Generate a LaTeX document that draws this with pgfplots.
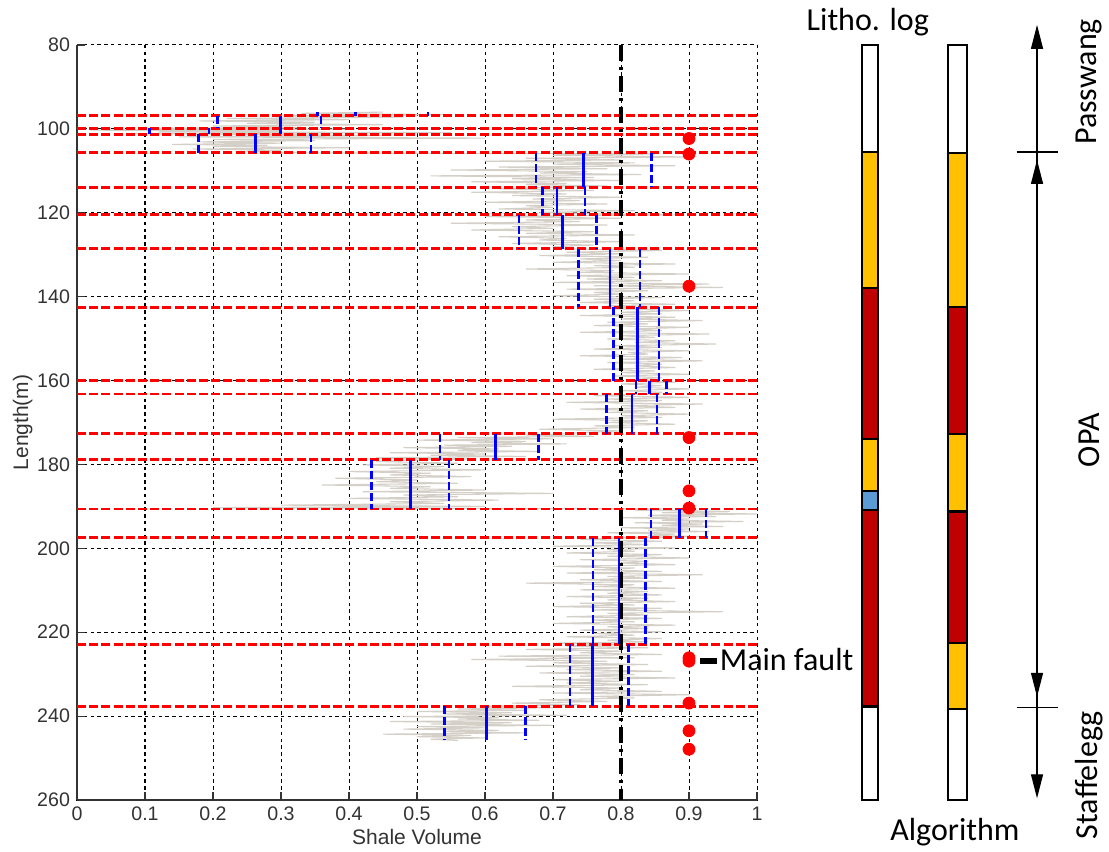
\documentclass[border=0pt]{standalone}
\usepackage{fontspec}
\setmainfont{Liberation Sans}
\newfontfamily\calfont{Carlito}
\usepackage{pgfplots}
\pgfplotsset{compat=1.18}
\usetikzlibrary{arrows.meta}
\definecolor{litY}{RGB}{255,192,0}
\definecolor{litR}{RGB}{192,0,0}
\definecolor{litB}{RGB}{91,155,213}
\definecolor{trace}{RGB}{212,208,199}
\newcommand{\seg}[5]{\addplot[fill=#5,draw=black,line width=1.1pt] coordinates {(#1,#3) (#2,#3) (#2,#4) (#1,#4)} -- cycle;}
\begin{document}
\begin{tikzpicture}
\begin{axis}[
  scale only axis, width=340pt, height=377.5pt,
  xmin=0, xmax=1, ymin=80, ymax=260, y dir=reverse,
  xtick={0,0.1,0.2,0.3,0.4,0.5,0.6,0.7,0.8,0.9,1},
  ytick={80,100,120,140,160,180,200,220,240,260},
  axis x line*=bottom, axis y line*=left,
  axis line style={black!80, line width=0.6pt},
  tick align=inside, major tick length=4pt,
  tick style={black!80, line width=0.6pt},
  grid=major, grid style={black, line width=0.5pt, dash pattern=on 1.7pt off 1.7pt},
  /pgf/number format/assume math mode=true,
  ticklabel style={font=\fontsize{9.8}{11}\selectfont, text=black!80},
  xlabel={Shale Volume}, ylabel={Length(m)},
  label style={font=\fontsize{10.5}{12}\selectfont, text=black!80},
  x label style={at={(axis description cs:0.5,-0.049)}, anchor=center},
  y label style={at={(axis description cs:-0.080,0.5)}, anchor=center},
  clip=false, unbounded coords=jump,
]
% raw log
\addplot[trace, line width=0.55pt] coordinates {
(0.45,96.0)(0.33,96.3)(0.55,96.6)(0.30,96.9)
(0.48,97.2)(0.22,97.5)(0.40,97.8)(0.18,98.1)(0.35,98.4)(0.25,98.7)(0.45,99.0)(0.20,99.3)(0.33,99.6)(0.10,99.9)
(0.40,100.1)(0.02,100.3)(0.30,100.5)(0.12,100.7)(0.55,100.9)(0.08,101.1)(0.25,101.3)
(0.45,101.6)(0.15,101.9)(0.60,102.2)(0.20,102.5)(0.35,102.8)(0.18,103.1)(0.30,103.4)(0.14,103.7)(0.28,103.9)(0.20,104.2)(0.40,104.5)(0.17,104.8)(0.30,105.1)(0.25,105.4)(0.33,105.7)
(0.85,106.0)(0.70,106.3)(0.90,106.7)(0.66,107.0)(0.80,107.4)(0.60,107.7)(0.82,108.1)(0.70,108.4)(0.88,108.8)(0.62,109.1)(0.78,109.5)(0.55,109.8)(0.75,110.2)(0.68,110.5)(0.83,110.9)(0.52,111.2)(0.76,111.6)(0.64,111.9)(0.80,112.3)(0.58,112.6)(0.72,113.0)(0.66,113.3)(0.78,113.6)(0.70,113.9)
(0.62,114.3)(0.76,114.7)(0.58,115.1)(0.72,115.5)(0.64,115.9)(0.80,116.3)(0.67,116.7)(0.74,117.1)(0.60,117.5)(0.78,117.9)(0.66,118.3)(0.70,118.7)(0.62,119.1)(0.82,119.5)(0.68,119.9)(0.74,120.2)(0.88,120.5)
(0.60,120.9)(0.80,121.3)(0.66,121.7)(0.74,122.1)(0.55,122.5)(0.78,122.9)(0.64,123.3)(0.70,123.7)(0.58,124.1)(0.76,124.5)(0.66,124.9)(0.82,125.3)(0.62,125.7)(0.72,126.1)(0.68,126.5)(0.80,126.9)(0.64,127.3)(0.76,127.7)(0.70,128.1)(0.72,128.6)
(0.86,129.0)(0.72,129.4)(0.80,129.8)(0.68,130.2)(0.84,130.6)(0.74,131.0)(0.80,131.4)(0.70,131.8)(0.88,132.2)(0.76,132.6)(0.82,133.0)(0.66,133.4)(0.79,133.8)(0.74,134.2)(0.90,134.6)(0.72,135.0)(0.82,135.4)(0.75,135.8)(0.86,136.2)(0.70,136.6)(0.93,137.0)(0.76,137.4)(0.95,137.8)(0.72,138.2)(0.84,138.6)(0.76,139.0)(0.80,139.4)(0.70,139.8)(0.86,140.2)(0.76,140.6)(0.82,141.0)(0.74,141.4)(0.88,141.8)(0.78,142.2)(0.82,142.5)
(0.78,142.9)(0.90,143.3)(0.80,143.7)(0.86,144.1)(0.74,144.5)(0.88,144.9)(0.80,145.3)(0.92,145.7)(0.78,146.1)(0.84,146.5)(0.76,146.9)(0.90,147.3)(0.82,147.7)(0.86,148.1)(0.74,148.5)(0.93,148.9)(0.80,149.3)(0.85,149.7)(0.78,150.1)(0.88,150.5)(0.82,150.9)(0.94,151.3)(0.79,151.7)(0.86,152.1)(0.76,152.5)(0.90,152.9)(0.81,153.3)(0.84,153.7)(0.74,154.1)(0.89,154.5)(0.80,154.9)(0.92,155.3)(0.78,155.7)(0.86,156.1)(0.82,156.5)(0.88,156.9)(0.76,157.3)(0.85,157.7)(0.80,158.1)(0.90,158.5)(0.79,158.9)(0.86,159.3)(0.82,159.7)(0.84,160.0)
(0.88,160.4)(0.80,160.8)(0.86,161.2)(0.82,161.6)(0.90,162.0)(0.80,162.4)(0.86,162.8)(0.84,163.2)
(0.76,163.6)(0.90,164.0)(0.78,164.4)(0.86,164.8)(0.72,165.2)(0.92,165.6)(0.80,166.0)(0.88,166.4)(0.74,166.8)(0.84,167.2)(0.78,167.6)(0.90,168.0)(0.80,168.4)(0.86,168.8)(0.70,169.2)(0.84,169.6)(0.78,170.0)(0.88,170.4)(0.76,170.8)(0.82,171.2)(0.68,171.6)(0.80,172.0)(0.74,172.4)(0.72,172.7)
(0.66,173.0)(0.76,173.3)(0.56,173.6)(0.70,173.9)(0.50,174.2)(0.66,174.5)(0.58,174.8)(0.72,175.1)(0.54,175.4)(0.64,175.7)(0.48,176.0)(0.62,176.3)(0.56,176.6)(0.68,176.9)(0.46,177.2)(0.60,177.5)(0.52,177.8)(0.66,178.1)(0.44,178.4)(0.58,178.7)(0.50,178.9)
(0.44,179.3)(0.56,179.7)(0.42,180.1)(0.54,180.5)(0.46,180.9)(0.60,181.3)(0.40,181.7)(0.52,182.1)(0.46,182.5)(0.58,182.9)(0.38,183.3)(0.50,183.7)(0.44,184.1)(0.56,184.5)(0.36,184.9)(0.52,185.3)(0.46,185.7)(0.60,186.1)(0.42,186.5)(0.70,186.9)(0.48,187.3)(0.56,187.7)(0.40,188.1)(0.62,188.5)(0.46,188.9)(0.54,189.3)(0.30,189.7)(0.60,190.0)(0.20,190.3)(0.86,190.6)
(0.82,190.9)(0.96,191.2)(0.86,191.5)(1.00,191.8)(0.84,192.1)(0.94,192.4)(0.80,192.7)(0.90,193.0)(0.86,193.3)(0.98,193.6)(0.82,193.9)(0.92,194.2)(0.86,194.5)(0.95,194.8)(0.80,195.1)(0.90,195.4)(0.84,195.7)(0.93,196.0)(0.78,196.3)(0.88,196.6)(0.84,196.9)(0.92,197.2)(0.80,197.5)
(0.74,197.9)(0.86,198.3)(0.76,198.7)(0.84,199.1)(0.70,199.5)(0.88,199.9)(0.78,200.3)(0.82,200.7)(0.72,201.1)(0.86,201.5)(0.78,201.9)(0.90,202.3)(0.74,202.7)(0.84,203.1)(0.80,203.5)(0.88,203.9)(0.70,204.3)(0.82,204.7)(0.76,205.1)(0.86,205.5)(0.72,205.9)(0.92,206.3)(0.78,206.7)(0.84,207.1)(0.74,207.5)(0.86,207.9)(0.66,208.3)(0.82,208.7)(0.76,209.1)(0.88,209.5)(0.74,209.9)(0.84,210.3)(0.78,210.7)(0.86,211.1)(0.72,211.5)(0.84,211.9)(0.78,212.3)(0.88,212.7)(0.74,213.1)(0.82,213.5)(0.70,213.9)(0.86,214.3)(0.76,214.7)(0.95,215.1)(0.78,215.5)(0.84,215.9)(0.72,216.3)(0.86,216.7)(0.76,217.1)(0.82,217.5)(0.70,217.9)(0.88,218.3)(0.78,218.7)(0.84,219.1)(0.74,219.5)(0.86,219.9)(0.76,220.3)(0.82,220.7)(0.72,221.1)(0.86,221.5)(0.78,221.9)(0.84,222.3)(0.70,222.6)(0.80,222.9)
(0.72,223.3)(0.84,223.7)(0.66,224.1)(0.80,224.5)(0.74,224.9)(0.86,225.3)(0.62,225.7)(0.82,226.1)(0.58,226.5)(0.78,226.9)(0.70,227.3)(0.84,227.7)(0.66,228.1)(0.80,228.5)(0.72,228.9)(0.86,229.3)(0.68,229.7)(0.82,230.1)(0.74,230.5)(0.88,230.9)(0.70,231.3)(0.80,231.7)(0.72,232.1)(0.84,232.5)(0.64,232.9)(0.80,233.3)(0.74,233.7)(0.86,234.1)(0.70,234.5)(0.90,234.9)(0.76,235.3)(0.82,235.7)(0.68,236.1)(0.78,236.5)(0.64,236.9)(0.74,237.3)(0.60,237.7)
(0.70,238.0)(0.56,238.3)(0.66,238.6)(0.50,238.9)(0.64,239.2)(0.54,239.5)(0.72,239.8)(0.48,240.1)(0.62,240.4)(0.56,240.7)(0.68,241.0)(0.46,241.3)(0.64,241.6)(0.52,241.9)(0.70,242.2)(0.50,242.5)(0.60,242.8)(0.48,243.1)(0.62,243.4)(0.54,243.7)(0.66,244.0)(0.45,244.3)(0.58,244.6)(0.50,244.9)(0.60,245.2)(0.52,245.5)(0.56,245.8)
};
% segment boundaries
\addplot[red, line width=1.4pt, dash pattern=on 4.5pt off 1.6pt] coordinates {
(0,96.9)(1,96.9)(nan,nan)(0,99.9)(1,99.9)(nan,nan)(0,101.3)(1,101.3)(nan,nan)
(0,105.7)(1,105.7)(nan,nan)(0,113.9)(1,113.9)(nan,nan)(0,120.5)(1,120.5)(nan,nan)
(0,128.6)(1,128.6)(nan,nan)(0,142.5)(1,142.5)(nan,nan)(0,160.0)(1,160.0)(nan,nan)
(0,163.2)(1,163.2)(nan,nan)(0,172.7)(1,172.7)(nan,nan)(0,178.9)(1,178.9)(nan,nan)
(0,190.6)(1,190.6)(nan,nan)(0,197.5)(1,197.5)(nan,nan)(0,222.9)(1,222.9)(nan,nan)
(0,237.7)(1,237.7)
};
% segment means
\addplot[blue, line width=1.35pt] coordinates {
(0.410,96.0)(0.410,96.9)(nan,nan)
(0.299,96.9)(0.299,99.9)(nan,nan)
(0.194,99.9)(0.194,101.3)(nan,nan)
(0.263,101.3)(0.263,105.7)(nan,nan)
(0.745,105.7)(0.745,113.9)(nan,nan)
(0.706,113.9)(0.706,120.5)(nan,nan)
(0.714,120.5)(0.714,128.6)(nan,nan)
(0.784,128.6)(0.784,142.5)(nan,nan)
(0.824,142.5)(0.824,160.0)(nan,nan)
(0.842,160.0)(0.842,163.2)(nan,nan)
(0.816,163.2)(0.816,172.7)(nan,nan)
(0.615,172.7)(0.615,178.9)(nan,nan)
(0.490,178.9)(0.490,190.6)(nan,nan)
(0.886,190.6)(0.886,197.5)(nan,nan)
(0.797,197.5)(0.797,222.9)(nan,nan)
(0.758,222.9)(0.758,237.7)(nan,nan)
(0.602,237.7)(0.602,245.8)
};
% mean -/+ std
\addplot[blue, line width=1.35pt, dash pattern=on 4pt off 1.5pt] coordinates {
(0.354,96.0)(0.354,96.9)(nan,nan)(0.516,96.0)(0.516,96.9)(nan,nan)
(0.207,96.9)(0.207,99.9)(nan,nan)(0.359,96.9)(0.359,99.9)(nan,nan)
(0.107,99.9)(0.107,101.3)(nan,nan)(0.299,99.9)(0.299,101.3)(nan,nan)
(0.179,101.3)(0.179,105.7)(nan,nan)(0.344,101.3)(0.344,105.7)(nan,nan)
(0.675,105.7)(0.675,113.9)(nan,nan)(0.845,105.7)(0.845,113.9)(nan,nan)
(0.685,113.9)(0.685,120.5)(nan,nan)(0.747,113.9)(0.747,120.5)(nan,nan)
(0.650,120.5)(0.650,128.6)(nan,nan)(0.764,120.5)(0.764,128.6)(nan,nan)
(0.737,128.6)(0.737,142.5)(nan,nan)(0.828,128.6)(0.828,142.5)(nan,nan)
(0.789,142.5)(0.789,160.0)(nan,nan)(0.856,142.5)(0.856,160.0)(nan,nan)
(0.822,160.0)(0.822,163.2)(nan,nan)(0.867,160.0)(0.867,163.2)(nan,nan)
(0.779,163.2)(0.779,172.7)(nan,nan)(0.853,163.2)(0.853,172.7)(nan,nan)
(0.534,172.7)(0.534,178.9)(nan,nan)(0.679,172.7)(0.679,178.9)(nan,nan)
(0.433,178.9)(0.433,190.6)(nan,nan)(0.547,178.9)(0.547,190.6)(nan,nan)
(0.844,190.6)(0.844,197.5)(nan,nan)(0.925,190.6)(0.925,197.5)(nan,nan)
(0.759,197.5)(0.759,222.9)(nan,nan)(0.836,197.5)(0.836,222.9)(nan,nan)
(0.725,222.9)(0.725,237.7)(nan,nan)(0.811,222.9)(0.811,237.7)(nan,nan)
(0.540,237.7)(0.540,245.8)(nan,nan)(0.660,237.7)(0.660,245.8)
};
% threshold
\addplot[black, line width=2pt, dash pattern=on 8pt off 3pt on 1.5pt off 3pt] coordinates {(0.8,80)(0.8,260)};
% events
\addplot[only marks, mark=*, mark size=3pt, red] coordinates {
(0.9,102.3)(0.9,106.0)(0.9,137.5)(0.9,173.6)(0.9,186.3)(0.9,190.4)(0.9,226.1)(0.9,226.9)(0.9,236.9)(0.9,243.5)(0.9,247.9)};
\node[anchor=west, inner sep=0pt, font=\calfont\fontsize{16}{18}\selectfont] at (axis cs:0.916,226.6) {\rule[0.22em]{0.52em}{0.17em}\kern1.5pt Main fault};
% litho log column
\seg{1.154}{1.178}{80}{105.5}{white}
\seg{1.154}{1.178}{105.5}{138.0}{litY}
\seg{1.154}{1.178}{138.0}{174.0}{litR}
\seg{1.154}{1.178}{174.0}{186.4}{litY}
\seg{1.154}{1.178}{186.4}{190.9}{litB}
\seg{1.154}{1.178}{190.9}{237.7}{litR}
\seg{1.154}{1.178}{237.7}{260}{white}
% algorithm column
\seg{1.2813}{1.3084}{80}{105.7}{white}
\seg{1.2813}{1.3084}{105.7}{142.5}{litY}
\seg{1.2813}{1.3084}{142.5}{172.7}{litR}
\seg{1.2813}{1.3084}{172.7}{191.2}{litY}
\seg{1.2813}{1.3084}{191.2}{222.6}{litR}
\seg{1.2813}{1.3084}{222.6}{238.3}{litY}
\seg{1.2813}{1.3084}{238.3}{260}{white}
% formation arrows
\draw[black, line width=0.6pt] (axis cs:1.4118,78) -- (axis cs:1.4118,257);
\draw[black, line width=0.6pt] (axis cs:1.3819,105.5) -- (axis cs:1.4431,105.5);
\draw[black, line width=0.6pt] (axis cs:1.3819,237.9) -- (axis cs:1.4431,237.9);
\draw[black, line width=0.6pt, -{Triangle[length=12pt,width=6pt]}] (axis cs:1.4118,100) -- (axis cs:1.4118,75.2);
\draw[black, line width=0.6pt, {Triangle[length=12pt,width=6pt]}-{Triangle[length=12pt,width=6pt]}] (axis cs:1.4118,107.4) -- (axis cs:1.4118,235.4);
\draw[black, line width=0.6pt, -{Triangle[length=12pt,width=6pt]}] (axis cs:1.4118,245) -- (axis cs:1.4118,259.6);
\node[font=\calfont\fontsize{16}{18}\selectfont] at (axis cs:1.163,74.5) {Litho. log};
\node[font=\calfont\fontsize{16}{18}\selectfont] at (axis cs:1.291,267.6) {Algorithm};
\node[rotate=90, font=\calfont\fontsize{16}{18}\selectfont] at (axis cs:1.488,88.8) {Passwang};
\node[rotate=90, font=\calfont\fontsize{16}{18}\selectfont] at (axis cs:1.488,174.2) {OPA};
\node[rotate=90, font=\calfont\fontsize{16}{18}\selectfont] at (axis cs:1.488,254.1) {Staffelegg};
\coordinate (bbsw) at (axis description cs:-0.11324,-0.06887);
\coordinate (bbne) at (axis description cs:1.51765,1.0596);
\end{axis}
\pgfresetboundingbox
\useasboundingbox (bbsw) rectangle (bbne);
\end{tikzpicture}
\end{document}
